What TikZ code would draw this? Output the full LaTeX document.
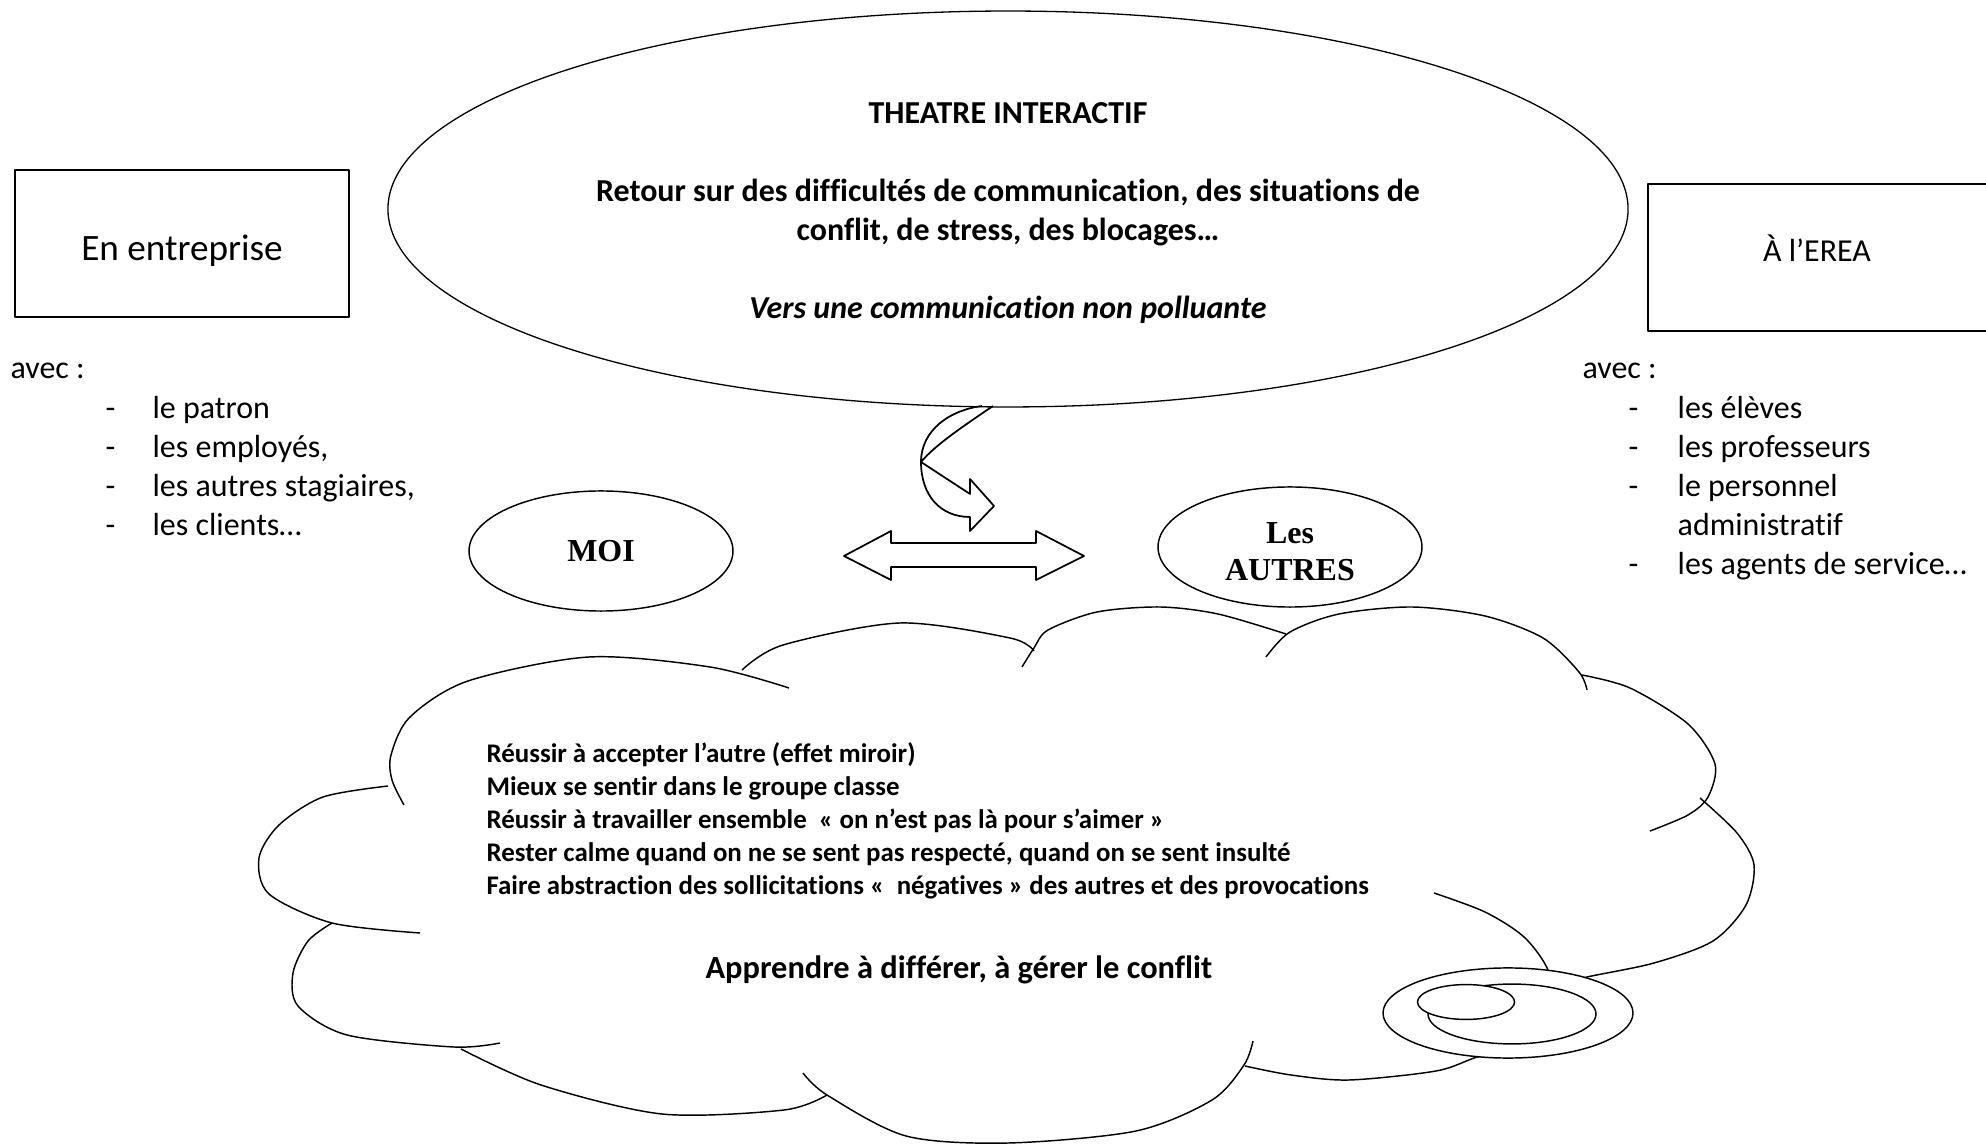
\documentclass[tikz,border=0pt]{standalone}
\usepackage{fontspec}
\setmainfont{Carlito}[Ligatures={TeX,NoCommon}]
\newfontfamily\timesfont{Liberation Serif}
\usetikzlibrary{shapes.geometric}

\begin{document}
\begin{tikzpicture}[x=0.344pt,y=-0.344pt,line join=round,
    boite/.style={draw,line width=0.65pt,rectangle,inner sep=0pt},
    bulle/.style={draw,line width=0.5pt,ellipse,inner sep=0pt},
    nuage/.style={line width=0.5pt},
    texte/.style={inner sep=0pt,font=\fontsize{11pt}{13.4pt}\selectfont},
    liste/.style={texte,anchor=base west}]

  % cadre de la page
  \useasboundingbox (0,0) rectangle (1986,1146);

  % grille pour reperer les coordonnees
  %\draw[step=100,lightgray] (0,0) grid (1986,1146);

  % les deux lieux
  \node[boite,minimum width=114.9pt,minimum height=50.6pt] (entreprise) at (182,243.5){};
  \node[texte,anchor=base,font=\fontsize{12.8pt}{15pt}\selectfont] (entreprisetxt)%
    at (182,261){En entreprise};
  \node[boite,minimum width=121.1pt,minimum height=50.6pt] (erea) at (1824,257.5){};
  \node[texte,anchor=base] (ereatxt) at (1817,262){À l’EREA};

  \node[liste] (avecg) at (10,379){avec :};
  \node[liste] (listeg) at (105,419){%
    \begin{tabular}[t]{@{}p{16.2pt}@{}l@{}}
      - & le patron \\
      - & les employés, \\
      - & les autres stagiaires, \\
      - & les clients…
    \end{tabular}};

  \node[liste] (avecd) at (1582,379){avec :};
  \node[liste] (listed) at (1628,419){%
    \begin{tabular}[t]{@{}p{16.9pt}@{}l@{}}
      - & les élèves \\
      - & les professeurs \\
      - & le personnel \\
        & administratif \\
      - & les agents de service…
    \end{tabular}};

  % la grande bulle du haut
  \node[bulle,line width=0.45pt,minimum width=426.6pt,minimum height=136.2pt] (theatre)%
    at (1008,209){};
  \node[texte,align=center,font=\bfseries\fontsize{11pt}{13.4pt}\selectfont] (theatretxt)%
    at (1008,213){%
    THEATRE INTERACTIF \\[13.4pt]
    Retour sur des difficultés de communication, des situations de \\
    conflit, de stress, des blocages… \\[13.4pt]
    \textit{Vers une communication non polluante}};

  % fleche courbe sous la bulle
  \draw[line width=0.6pt] (993,406) .. controls (965,425) and (935,445) .. (921,462)
    -- (970,494) -- (970,479) -- (994,506) -- (970,531) -- (970,517)
    .. controls (940,517) and (921,495) .. (921,462)
    .. controls (921,430) and (950,410) .. (982,406);

  % moi et les autres
  \node[bulle,minimum width=90.8pt,minimum height=41.3pt,%
    font=\timesfont\bfseries\fontsize{11pt}{12.7pt}\selectfont] (moi) at (601,551){MOI};
  \node[bulle,minimum width=90.8pt,minimum height=41.3pt] (autres) at (1290,547){};
  \node[texte,align=center,font=\timesfont\bfseries\fontsize{11pt}{12.7pt}\selectfont]%
    (autrestxt) at (1290,552){Les \\ AUTRES};

  \draw[line width=0.6pt] (844,556) -- (891,531) -- (891,543) -- (1036,543)
    -- (1036,531) -- (1084,556) -- (1036,580) -- (1036,567) -- (891,567)
    -- (891,580) -- cycle;

  % le nuage
  \draw[nuage] plot[smooth] coordinates {(404,805) (392,780) (391,755) (410,717)
    (468,681) (589,657) (710,667) (789,688)};
  \draw[nuage] plot[smooth] coordinates {(742,670) (783,645) (900,623) (1010,638)
    (1034,651)};
  \draw[nuage] plot[smooth] coordinates {(1022,667) (1034,648) (1048,630) (1097,612)
    (1160,607) (1218,614) (1286,634)};
  \draw[nuage] plot[smooth] coordinates {(1266,657) (1290,632) (1339,614) (1412,607)
    (1485,616) (1543,638) (1579,672) (1587,690)};
  \draw[nuage] plot[smooth] coordinates {(1582,675) (1630,688) (1688,724) (1715,764)
    (1708,797) (1688,815) (1650,831)};
  \draw[nuage] plot[smooth] coordinates {(1700,798) (1737,833) (1754,865) (1746,905)
    (1713,941) (1654,963) (1587,977) (1560,985)};
  \draw[nuage] plot[smooth] coordinates {(1434,893) (1485,912) (1524,937) (1548,970)
    (1555,1010) (1520,1045) (1477,1057) (1436,1071) (1349,1080) (1291,1075) (1245,1066)};
  \draw[nuage] plot[smooth] coordinates {(1253,1041) (1244,1065) (1212,1100) (1136,1131)
    (1008,1143) (906,1136) (827,1095) (803,1073)};
  \draw[nuage] plot[smooth] coordinates {(461,1049) (541,1085) (662,1114) (784,1110)
    (827,1095)};
  \draw[nuage] plot[smooth] coordinates {(332,923) (308,941) (293,973) (298,1006)
    (347,1035) (454,1047) (500,1043)};
  \draw[nuage] plot[smooth] coordinates {(388,786) (323,797) (279,825) (259,858)
    (269,894) (332,923) (420,933)};

  % les petites bulles du nuage
  \node[bulle,fill=white,minimum width=86pt,minimum height=31pt] (plat) at (1508,1013){};
  \node[bulle,fill=white,minimum width=57.8pt,minimum height=20.6pt] (bol) at (1512,1014){};
  \node[bulle,fill=white,minimum width=33.4pt,minimum height=12pt] (goutte) at (1466,1002){};

  % textes du nuage
  \node[liste,font=\bfseries\fontsize{9.25pt}{11.35pt}\selectfont] (objectifs) at (486,763){%
    \begin{tabular}[t]{@{}l@{}}
      Réussir à accepter l’autre (effet miroir) \\
      Mieux se sentir dans le groupe classe \\
      Réussir à travailler ensemble \ « on n’est pas là pour s’aimer » \\
      Rester calme quand on ne se sent pas respecté, quand on se sent insulté \\
      Faire abstraction des sollicitations « \ négatives » des autres et des provocations
    \end{tabular}};
  \node[texte,font=\bfseries\fontsize{11.15pt}{13.4pt}\selectfont] (conflit) at (959,970){%
    Apprendre à différer, à gérer le conflit};

\end{tikzpicture}
\end{document}
